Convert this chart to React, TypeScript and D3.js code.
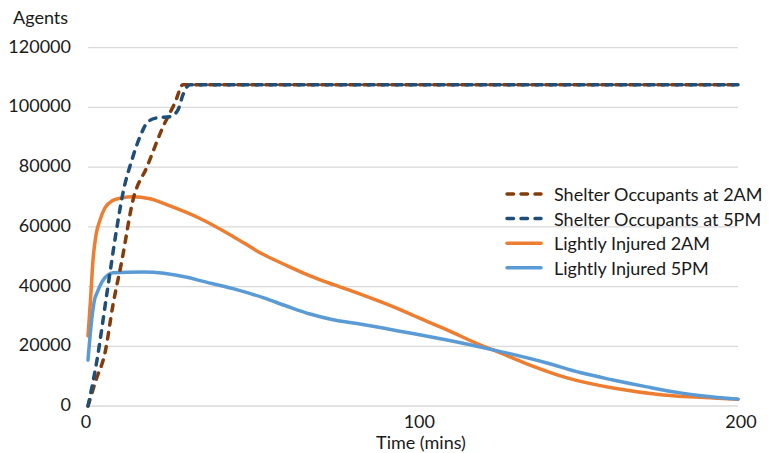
import React from "react";
import * as d3 from "d3";

// ---- Data (time in minutes, agents) ----
const shelter2amT = [0, 2.4, 5.1, 7.5, 10.2, 13.5, 17.7, 22.5, 26.1, 28.5, 40, 80, 120, 160, 195];
const shelter2amV = [0, 8700, 17800, 33900, 48900, 69000, 80100, 93500, 101600, 107600, 107600, 107600, 107600, 107600, 107600];

const shelter5pmT = [0, 2.7, 5.7, 8.7, 10.5, 13.2, 15.6, 18, 20.7, 24.6, 27, 28.5, 30.6, 40, 80, 120, 160, 195];
const shelter5pmV = [0, 15400, 37900, 60000, 71400, 82500, 90200, 95200, 96500, 96900, 99200, 104300, 107600, 107600, 107600, 107600, 107600, 107600];

const injured2amT = [0, 0.75, 1.5, 2.4, 3.6, 5.1, 7.2, 10.2, 13.2, 18.6, 24.6, 33.6, 43.5, 52.5, 59.7, 66.6, 73.5, 80.7, 88.5, 95.7, 102.6, 107.7, 117.6, 121.5, 132.6, 143.7, 157.5, 172.5, 187.5, 195];
const injured2amV = [23500, 35500, 48900, 57300, 62300, 66400, 68700, 69700, 70100, 69400, 67000, 62800, 56800, 50800, 47000, 43600, 40700, 37900, 34600, 31300, 27900, 25500, 20500, 18800, 13700, 9400, 6000, 3700, 2700, 2300];

const injured5pmT = [0, 1.2, 1.95, 2.7, 4.2, 6, 7.5, 16.5, 29.7, 33.6, 43.5, 52.5, 59.7, 66.6, 73.5, 80.7, 88.5, 95.7, 102.6, 107.7, 121.5, 137.7, 147.6, 157.5, 167.7, 177.6, 187.5, 195];
const injured5pmV = [15400, 29800, 35500, 37900, 41600, 43900, 44600, 44900, 43100, 42000, 39300, 36300, 33400, 30800, 28900, 27600, 26100, 24600, 23200, 22100, 18800, 14400, 11200, 8700, 6400, 4400, 3000, 2300];

const seriesNames = [
  "Shelter Occupants at 2AM",
  "Shelter Occupants at 5PM",
  "Lightly Injured 2AM",
  "Lightly Injured 5PM",
];
const seriesColors = ["#843C0C", "#1F4E79", "#ED7D31", "#5B9BD5"];
const seriesDashed = [true, true, false, false];

const yTicks = [0, 20000, 40000, 60000, 80000, 100000, 120000];
const xTicks = [0, 100, 200];

const W = 769;
const H = 453;
const FONT = "Lato, 'Open Sans', sans-serif";

export default function App() {
  const x = d3.scaleLinear().domain([0, 195]).range([88, 738]);
  const y = d3.scaleLinear().domain([0, 120000]).range([406, 47.7]);

  const series = [
    { t: shelter2amT, v: shelter2amV },
    { t: shelter5pmT, v: shelter5pmV },
    { t: injured2amT, v: injured2amV },
    { t: injured5pmT, v: injured5pmV },
  ];

  const line = d3
    .line<[number, number]>()
    .x((d) => x(d[0]))
    .y((d) => y(d[1]))
    .curve(d3.curveMonotoneX);

  const drawOrder = [2, 3, 0, 1];

  const legendX = 505;
  const legendY0 = 194;
  const legendStep = 24.6;

  return (
    <svg
      width={W}
      height={H}
      style={{ position: "absolute", left: 0, top: 0, background: "#fff" }}
      fontFamily={FONT}
    >
      <rect x={0} y={0} width={W} height={H} fill="#fff" />
      {/* gridlines */}
      {yTicks.map((t) => (
        <line
          key={t}
          x1={88}
          x2={738}
          y1={y(t)}
          y2={y(t)}
          stroke="#D9D9D9"
          strokeWidth={1.3}
        />
      ))}
      {/* y tick labels */}
      {yTicks.map((t) => (
        <text
          key={"yl" + t}
          x={71}
          y={y(t) - 2}
          textAnchor="end"
          dominantBaseline="central"
          fontSize={18}
          fill="#1a1a1a"
        >
          {t}
        </text>
      ))}
      {/* x tick labels */}
      {xTicks.map((t) => (
        <text
          key={"xl" + t}
          x={Math.min(x(t), 743) - 2}
          y={421}
          textAnchor="middle"
          dominantBaseline="central"
          fontSize={18}
          fill="#1a1a1a"
        >
          {t}
        </text>
      ))}
      <text x={13} y={17} dominantBaseline="central" fontSize={18} fill="#1a1a1a">
        Agents
      </text>
      <text
        x={421}
        y={442}
        textAnchor="middle"
        dominantBaseline="central"
        fontSize={18}
        fill="#1a1a1a"
      >
        Time (mins)
      </text>
      {/* series */}
      {drawOrder.map((i) => {
        const s = series[i];
        const pts: [number, number][] = s.t.map((t, k) => [t, s.v[k]]);
        return (
          <path
            key={"s" + i}
            d={line(pts) || ""}
            fill="none"
            stroke={seriesColors[i]}
            strokeWidth={3.5}
            strokeLinecap="round"
            strokeLinejoin="round"
            strokeDasharray={seriesDashed[i] ? "6.5 7.5" : undefined}
          />
        );
      })}
      {/* legend */}
      {seriesNames.map((name, i) => {
        const ly = legendY0 + i * legendStep;
        return (
          <g key={"lg" + i}>
            <line
              x1={legendX + 2}
              x2={legendX + 36}
              y1={ly}
              y2={ly}
              stroke={seriesColors[i]}
              strokeWidth={3.5}
              strokeLinecap="round"
              strokeDasharray={seriesDashed[i] ? "6.5 7.5" : undefined}
            />
            <text
              x={554}
              y={ly}
              dominantBaseline="central"
              fontSize={18}
              fill="#1a1a1a"
            >
              {name}
            </text>
          </g>
        );
      })}
    </svg>
  );
}
